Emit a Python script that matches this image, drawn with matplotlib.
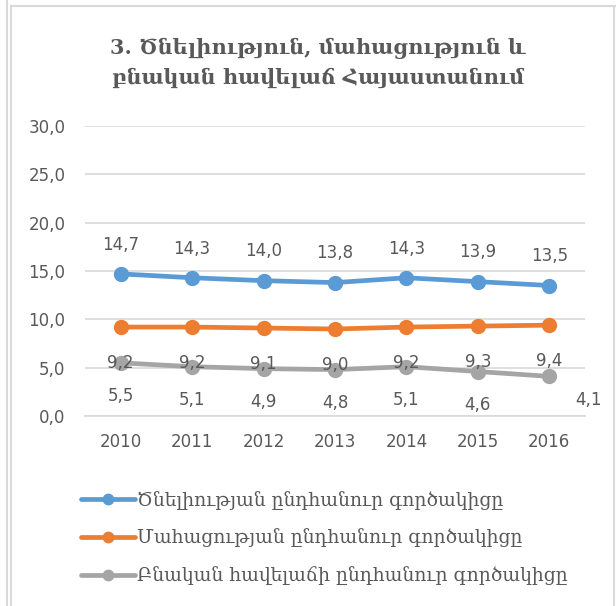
import matplotlib.pyplot as plt
from matplotlib.lines import Line2D

years = ['2010', '2011', '2012', '2013', '2014', '2015', '2016']
birth = [14.7, 14.3, 14.0, 13.8, 14.3, 13.9, 13.5]
death = [9.2, 9.2, 9.1, 9.0, 9.2, 9.3, 9.4]
natural = [5.5, 5.1, 4.9, 4.8, 5.1, 4.6, 4.1]

labels = ['Ծնելիության ընդհանուր գործակիցը',
          'Մահացության ընդհանուր գործակիցը',
          'Բնական հավելաճի ընդհանուր գործակիցը']
title = '3. Ծնելիություն, մահացություն և\nբնական հավելաճ Հայաստանում'

txt = '#595959'
arm_font = ['DejaVu Serif', 'DejaVu Sans']
plt.rcParams['font.family'] = ['DejaVu Sans']

fig = plt.figure(figsize=(6.16, 6.06), dpi=100)
ax = fig.add_axes([85 / 616, 190 / 606, 500 / 616, 290 / 606])

x = range(len(years))
series = [(birth, '#5B9BD5'), (death, '#ED7D31'), (natural, '#A5A5A5')]
for (vals, col), lab in zip(series, labels):
    ax.plot(x, vals, color=col, lw=3.4, marker='o', ms=10, label=lab,
            solid_capstyle='round')

def fmt(v):
    return f'{v:.1f}'.replace('.', ',')

for i, v in enumerate(birth):
    ax.annotate(fmt(v), (i, v), xytext=(0, 21), textcoords='offset points',
                ha='center', va='center', fontsize=12, color=txt)
for i, v in enumerate(death):
    ax.annotate(fmt(v), (i, v), xytext=(0, -26), textcoords='offset points',
                ha='center', va='center', fontsize=12, color=txt)
for i, v in enumerate(natural):
    dx = 0
    dy = -24
    if i == len(natural) - 1:
        dx, dy = 28, -17
    ax.annotate(fmt(v), (i, v), xytext=(dx, dy), textcoords='offset points',
                ha='center', va='center', fontsize=12, color=txt)

ax.set_ylim(0, 30)
ax.set_yticks([0, 5, 10, 15, 20, 25, 30])
ax.set_yticklabels([fmt(t) for t in [0, 5, 10, 15, 20, 25, 30]])
ax.set_xlim(-0.5, len(years) - 0.5)
ax.set_xticks(list(x))
ax.set_xticklabels(years)
ax.tick_params(length=0, labelsize=12, colors=txt, pad=14)
ax.tick_params(axis='x', pad=12)
ax.grid(axis='y', color='#D9D9D9', lw=1.2)
ax.set_axisbelow(True)
for s in ax.spines.values():
    s.set_visible(False)
ax.spines['bottom'].set_visible(True)
ax.spines['bottom'].set_color('#D9D9D9')
ax.spines['bottom'].set_linewidth(1.2)

fig.text(318 / 616, 1 - 63 / 606, title, ha='center', va='center',
         fontsize=15, fontweight='bold', color=txt, family=arm_font,
         linespacing=1.55)

fig.legend(loc='upper left', bbox_to_anchor=(64 / 616, 1 - 474 / 606),
           frameon=False, labelcolor=txt, handlelength=2.9, markerscale=0.75,
           handletextpad=0.1, labelspacing=1.0, prop={'family': arm_font, 'size': 13.5})

# decorative frame
bc = '#D9D9D9'
fig.add_artist(Line2D([7 / 616, 7 / 616], [0, 1], color=bc, lw=1.5, transform=fig.transFigure))
fig.add_artist(Line2D([11 / 616, 11 / 616], [0, 1 - 6 / 606], color=bc, lw=1.5, transform=fig.transFigure))
fig.add_artist(Line2D([11 / 616, 1], [1 - 6 / 606, 1 - 6 / 606], color=bc, lw=1.5, transform=fig.transFigure))
fig.add_artist(Line2D([614 / 616, 614 / 616], [0, 1 - 6 / 606], color=bc, lw=1.5, transform=fig.transFigure))

fig.savefig('out.png', dpi=100)
